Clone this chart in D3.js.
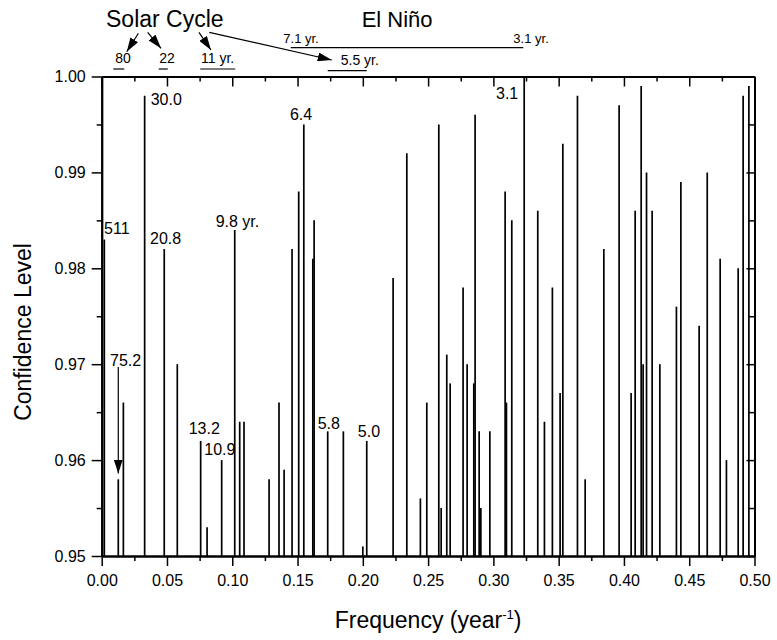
<!DOCTYPE html>
<html>
<head>
<meta charset="utf-8">
<script src="https://cdn.jsdelivr.net/npm/d3@7"></script>
<style>
  body { margin: 0; background: #fff; }
  text { font-family: "Liberation Sans", Arial, sans-serif; fill: #000; }
</style>
</head>
<body>
<div id="chart-area"></div>
<script>
// spectral peaks: frequency (1/year) and confidence level
var freqs = [0.002, 0.0127, 0.0166, 0.0329, 0.0479, 0.0579, 0.0758, 0.0807, 0.0919, 0.1019,
             0.1057, 0.1090, 0.1282, 0.1358, 0.1397, 0.1458, 0.1509, 0.1548, 0.1617, 0.1627,
             0.1731, 0.1851, 0.2000, 0.2030, 0.2232, 0.2337, 0.2441, 0.2490, 0.2582, 0.2600,
             0.2643, 0.2669, 0.2768, 0.2799, 0.2850, 0.2860, 0.2891, 0.2904, 0.2973, 0.3090,
             0.3100, 0.3141, 0.3236, 0.3340, 0.3391, 0.3452, 0.3511, 0.3532, 0.3644, 0.3703,
             0.3846, 0.3963, 0.4055, 0.4086, 0.4132, 0.4147, 0.4173, 0.4216, 0.4275, 0.4402,
             0.4436, 0.4576, 0.4638, 0.4737, 0.4785, 0.4875, 0.4913, 0.4957];
var levels = [0.983, 0.958, 0.966, 0.998, 0.982, 0.970, 0.962, 0.953, 0.960, 0.984,
              0.964, 0.964, 0.958, 0.966, 0.959, 0.982, 0.988, 0.995, 0.981, 0.985,
              0.963, 0.963, 0.951, 0.962, 0.979, 0.992, 0.956, 0.966, 0.995, 0.955,
              0.971, 0.968, 0.978, 0.970, 0.968, 0.996, 0.963, 0.955, 0.963, 0.988,
              0.966, 0.985, 1.000, 0.986, 0.964, 0.978, 0.967, 0.993, 0.998, 0.958,
              0.982, 0.997, 0.967, 0.986, 0.999, 0.970, 0.990, 0.986, 0.970, 0.976,
              0.989, 0.974, 0.990, 0.981, 0.960, 0.980, 0.998, 0.999];

// period labels next to peaks (text, freq, level of baseline)
var peakLabels = [
    ["511", 0.0018, 0.9836], ["30.0", 0.0375, 0.9970], ["20.8", 0.0370, 0.9825],
    ["9.8 yr.", 0.0873, 0.9843], ["6.4", 0.1442, 0.9955], ["3.1", 0.3020, 0.9977],
    ["75.2", 0.0064, 0.9698], ["13.2", 0.0666, 0.9627], ["10.9", 0.0786, 0.9605],
    ["5.8", 0.1654, 0.9632], ["5.0", 0.1962, 0.9624]
];

// bands above the plot: text, text start freq, band from, band to, row
var bands = [
    ["80", 0.0103, 0.0089, 0.0173, 0],
    ["22", 0.0441, 0.0437, 0.0506, 0],
    ["11 yr.", 0.0761, 0.0755, 0.1023, 0],
    ["5.5 yr.", 0.1831, 0.1731, 0.2030, 1]
];

var xTicks = [0, 0.05, 0.10, 0.15, 0.20, 0.25, 0.30, 0.35, 0.40, 0.45, 0.50];
var yTicks = [0.95, 0.96, 0.97, 0.98, 0.99, 1.00];

var width = 777, height = 640;
var margin = {left: 101.7, right: 22.5, top: 76.5, bottom: 84};

var svg = d3.select("#chart-area")
    .append("svg")
        .attr("width", width)
        .attr("height", height);

var x = d3.scaleLinear()
    .domain([0, 0.5])
    .range([margin.left, width - margin.right]);

var y = d3.scaleLinear()
    .domain([0.95, 1.0])
    .range([height - margin.bottom, margin.top]);

var defs = svg.append("defs");
defs.append("marker")
    .attr("id", "head")
    .attr("viewBox", "0 0 14 9")
    .attr("refX", 14).attr("refY", 4.5)
    .attr("markerWidth", 14).attr("markerHeight", 9)
    .attr("markerUnits", "userSpaceOnUse")
    .attr("orient", "auto")
  .append("path")
    .attr("d", "M0,0 L14,4.5 L0,9 Z")
    .attr("fill", "#000");

// peaks
svg.selectAll("line.peak")
        .data(freqs)
    .enter()
        .append("line")
        .attr("class", "peak")
        .attr("x1", d => x(d))
        .attr("x2", d => x(d))
        .attr("y1", y(0.95))
        .attr("y2", (d, i) => y(levels[i]))
        .attr("stroke", "#000")
        .attr("stroke-width", 1.7);

// axes
var minorX = d3.range(0.025, 0.5, 0.05);
var minorY = d3.range(0.955, 1.0, 0.01);

function styleAxis(g) {
    g.select(".domain").attr("stroke-width", 2);
    g.selectAll(".tick line").attr("stroke-width", 1.5);
    g.selectAll("text").attr("font-size", 16);
}

svg.append("g")
    .attr("transform", "translate(0," + y(0.95) + ")")
    .call(d3.axisBottom(x).tickValues(xTicks).tickFormat(d3.format(".2f")).tickSize(10).tickPadding(9).tickSizeOuter(0))
    .call(styleAxis);
svg.append("g")
    .attr("transform", "translate(0," + y(0.95) + ")")
    .call(d3.axisBottom(x).tickValues(minorX).tickFormat("").tickSize(5).tickSizeOuter(0))
    .call(styleAxis);

svg.append("g")
    .attr("transform", "translate(" + x(0) + ",0)")
    .call(d3.axisLeft(y).tickValues(yTicks).tickFormat(d3.format(".2f")).tickSize(10).tickPadding(6).tickSizeOuter(0))
    .call(styleAxis);
svg.append("g")
    .attr("transform", "translate(" + x(0) + ",0)")
    .call(d3.axisLeft(y).tickValues(minorY).tickFormat("").tickSize(5).tickSizeOuter(0))
    .call(styleAxis);

// top and right, ticks pointing inside
svg.append("g")
    .attr("transform", "translate(0," + y(1.0) + ")")
    .call(d3.axisTop(x).tickValues(xTicks).tickFormat("").tickSize(-10).tickSizeOuter(0))
    .call(styleAxis);
svg.append("g")
    .attr("transform", "translate(0," + y(1.0) + ")")
    .call(d3.axisTop(x).tickValues(minorX).tickFormat("").tickSize(-5).tickSizeOuter(0))
    .call(styleAxis);
svg.append("g")
    .attr("transform", "translate(" + x(0.5) + ",0)")
    .call(d3.axisRight(y).tickValues(yTicks).tickFormat("").tickSize(-8).tickSizeOuter(0))
    .call(styleAxis);
svg.append("g")
    .attr("transform", "translate(" + x(0.5) + ",0)")
    .call(d3.axisRight(y).tickValues(minorY).tickFormat("").tickSize(-6).tickSizeOuter(0))
    .call(styleAxis);

// axis titles
var xt = svg.append("text")
    .attr("x", x(0.25))
    .attr("y", 628)
    .attr("text-anchor", "middle")
    .attr("font-size", 23);
xt.append("tspan").text("Frequency (year");
xt.append("tspan").attr("dy", -9).attr("font-size", 13).text("-1");
xt.append("tspan").attr("dy", 9).text(")");

svg.append("text")
    .attr("transform", "translate(31,332) rotate(-90)")
    .attr("text-anchor", "middle")
    .attr("font-size", 23)
    .text("Confidence Level");

// peak labels
svg.selectAll("text.plab")
        .data(peakLabels)
    .enter()
        .append("text")
        .attr("class", "plab")
        .attr("x", d => x(d[1]))
        .attr("y", d => y(d[2]))
        .attr("font-size", 16)
        .text(d => d[0]);

// arrow for 75.2
svg.append("line")
    .attr("x1", x(0.0127)).attr("x2", x(0.0127))
    .attr("y1", y(0.9697)).attr("y2", y(0.9586))
    .attr("stroke", "#000").attr("stroke-width", 1.2)
    .attr("marker-end", "url(#head)");

// annotations above the plot
var bandRowY = [69, 70.7];
var bandTextY = [63, 65];

bands.forEach(function(b) {
    svg.append("text")
        .attr("x", x(b[1]))
        .attr("y", bandTextY[b[4]])
        .attr("font-size", 14)
        .text(b[0]);
    svg.append("line")
        .attr("x1", x(b[2])).attr("x2", x(b[3]))
        .attr("y1", bandRowY[b[4]]).attr("y2", bandRowY[b[4]])
        .attr("stroke", "#000").attr("stroke-width", 1.2);
});

// El Nino band
svg.append("line")
    .attr("x1", x(0.1448)).attr("x2", x(0.3229))
    .attr("y1", 47.7).attr("y2", 47.7)
    .attr("stroke", "#000").attr("stroke-width", 1.2);
svg.append("text").attr("x", x(0.1391)).attr("y", 43).attr("font-size", 13).text("7.1 yr.");
svg.append("text").attr("x", x(0.3153)).attr("y", 43).attr("font-size", 13).text("3.1 yr.");

svg.append("text").attr("x", x(0.0033)).attr("y", 27).attr("font-size", 23).text("Solar Cycle");
svg.append("text").attr("x", x(0.1991)).attr("y", 27).attr("font-size", 22).text("El Niño");

// arrows from "Solar Cycle"
var arrows = [
    [0.0281, 33.3, 0.0192, 51.7],
    [0.0352, 32.3, 0.0454, 48.3],
    [0.0745, 32.3, 0.0837, 50],
    [0.0824, 32.3, 0.1762, 60]
];
svg.selectAll("line.arrow")
        .data(arrows)
    .enter()
        .append("line")
        .attr("class", "arrow")
        .attr("x1", d => x(d[0]))
        .attr("y1", d => d[1])
        .attr("x2", d => x(d[2]))
        .attr("y2", d => d[3])
        .attr("stroke", "#000")
        .attr("stroke-width", 1.2)
        .attr("marker-end", "url(#head)");
</script>
</body>
</html>
